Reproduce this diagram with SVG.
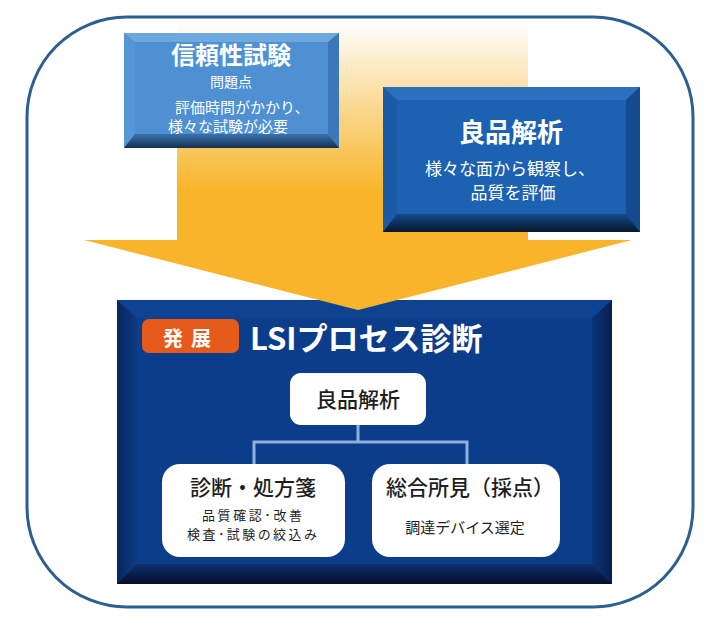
<svg xmlns="http://www.w3.org/2000/svg" width="717" height="627" viewBox="0 0 717 627">
<defs>
<style>
text{font-family:"Noto Sans CJK JP","Noto Sans",sans-serif;text-anchor:middle}
.w{fill:#ffffff}
.k{fill:#1e1e1e}
.b{font-weight:bold}
.card{fill:#ffffff}
.conn{stroke:#8fb0dc;stroke-width:3;fill:none}
</style>
<linearGradient id="arrowG" gradientUnits="userSpaceOnUse" x1="0" y1="22" x2="0" y2="190">
<stop offset="0" stop-color="#ffffff"/>
<stop offset="0.25" stop-color="#fcebc7"/>
<stop offset="1" stop-color="#f8b52b"/>
</linearGradient>
<linearGradient id="b1Bot" x1="0" y1="0" x2="0" y2="1">
<stop offset="0" stop-color="#3a72ae"/>
<stop offset="1" stop-color="#13304f"/>
</linearGradient>
<linearGradient id="b2Bot" x1="0" y1="0" x2="0" y2="1">
<stop offset="0" stop-color="#144a8c"/>
<stop offset="1" stop-color="#07162c"/>
</linearGradient>
<linearGradient id="b3Bot" x1="0" y1="0" x2="0" y2="1">
<stop offset="0" stop-color="#0b2f6e"/>
<stop offset="1" stop-color="#060f2b"/>
</linearGradient>
<linearGradient id="b3Right" x1="0" y1="0" x2="1" y2="0">
<stop offset="0" stop-color="#0b3478"/>
<stop offset="1" stop-color="#081f4e"/>
</linearGradient>
<linearGradient id="b3Left" x1="0" y1="0" x2="1" y2="0">
<stop offset="0" stop-color="#08285e"/>
<stop offset="1" stop-color="#0c3a83"/>
</linearGradient>
</defs>

<rect id="frame" x="27" y="17" width="666" height="590" rx="100" ry="100" fill="#ffffff" stroke="#2b5f94" stroke-width="3"/>

<g id="node-lsi-panel">
<rect x="117" y="300" width="495" height="284" fill="#0c3d8a"/>
<polygon points="117,300 612,300 592,318 137,318" fill="#0e4392"/>
<polygon points="117,300 137,318 137,564 117,584" fill="url(#b3Left)"/>
<polygon points="612,300 612,584 592,564 592,318" fill="url(#b3Right)"/>
<polygon points="117,584 612,584 592,564 137,564" fill="url(#b3Bot)"/>
<rect x="137" y="318" width="455" height="246" fill="#0c3d8a"/>
<rect x="142" y="319" width="97" height="34" rx="7" ry="7" fill="#e65a1c"/>
<text x="191" y="346" class="w b" font-size="20" letter-spacing="8">発展</text>
<text x="250" y="350" class="w b" font-size="31" style="text-anchor:start">LSIプロセス診断</text>
</g>

<g id="arrow">
<polygon points="177,22 528,22 528,240 632,240 358,310 84,240 177,240" fill="url(#arrowG)"/>
</g>

<g id="node-reliability">
<rect x="124" y="33" width="215" height="115" fill="#4e90d2"/>
<polygon points="124,33 339,33 328,42 135,42" fill="#6ea8df"/>
<polygon points="124,33 135,42 135,134 124,148" fill="#5597d6"/>
<polygon points="339,33 339,148 328,134 328,42" fill="#3a78ba"/>
<polygon points="124,148 339,148 328,134 135,134" fill="url(#b1Bot)"/>
<text x="231" y="64" class="w b" font-size="24">信頼性試験</text>
<text x="231" y="87" class="w" font-size="14">問題点</text>
<text x="175" y="113" class="w" font-size="15" style="text-anchor:start">評価時間がかかり、</text>
<text x="168" y="132" class="w" font-size="15" style="text-anchor:start">様々な試験が必要</text>
</g>

<g id="node-good-analysis">
<rect x="383" y="87" width="257" height="145" fill="#1d62b2"/>
<polygon points="383,87 640,87 626,100 397,100" fill="#2a70bf"/>
<polygon points="383,87 397,100 397,214 383,232" fill="#1a5aa6"/>
<polygon points="640,87 640,232 626,214 626,100" fill="#134b8f"/>
<polygon points="383,232 640,232 626,214 397,214" fill="url(#b2Bot)"/>
<text x="511" y="142" class="w b" font-size="26">良品解析</text>
<text x="510" y="175" class="w" font-size="17">様々な面から観察し、</text>
<text x="513" y="199" class="w" font-size="17">品質を評価</text>
</g>

<g id="connectors">
<path class="conn" d="M358,425 V442 M254,464 V442 H467 V464"/>
</g>

<g id="node-inner-analysis">
<rect class="card" x="290" y="373" width="136" height="52" rx="11" ry="11"/>
<text x="358" y="407" class="k" font-size="21" font-weight="500">良品解析</text>
</g>

<g id="node-diagnosis">
<rect class="card" x="162" y="464" width="183" height="93" rx="18" ry="18"/>
<text x="253" y="495" class="k" font-size="21" font-weight="500">診断・処方箋</text>
<text x="252" y="520" class="k" font-size="13" textLength="100" lengthAdjust="spacing">品質確認･改善</text>
<text x="252" y="539" class="k" font-size="13" textLength="130" lengthAdjust="spacing">検査･試験の絞込み</text>
</g>

<g id="node-findings">
<rect class="card" x="372" y="464" width="188" height="93" rx="18" ry="18"/>
<text x="470" y="495" class="k" font-size="21" font-weight="500">総合所見（採点）</text>
<text x="465" y="533" class="k" font-size="15">調達デバイス選定</text>
</g>
</svg>
